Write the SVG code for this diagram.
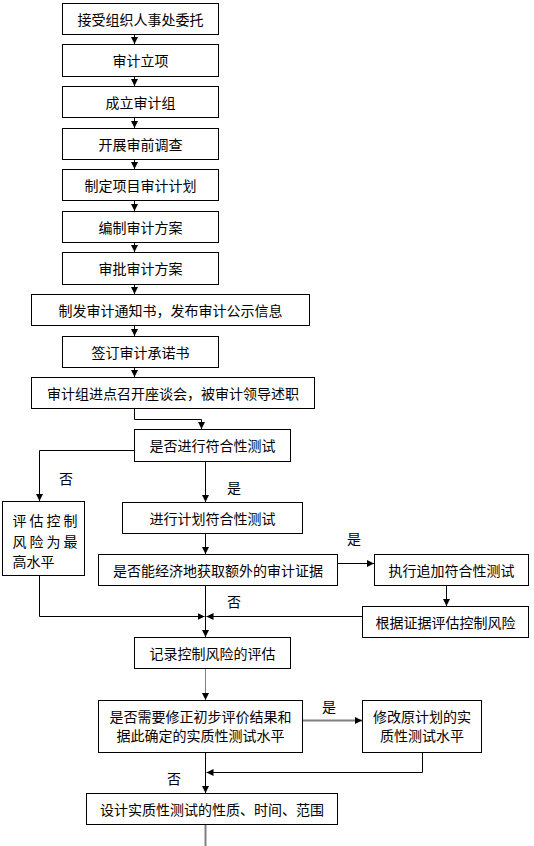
<svg xmlns="http://www.w3.org/2000/svg" width="534" height="846" viewBox="0 0 534 846">
<style>
rect.b{fill:#fff;stroke:#000;stroke-width:1}
text{font-family:"Noto Sans CJK SC","Noto Sans CJK TC",sans-serif;font-size:14px;fill:#000}
text.c{text-anchor:middle}
.ln{fill:none;stroke:#000;stroke-width:1}
.gl{fill:none;stroke:#808080;stroke-width:1}
.gt{fill:none;stroke:#808080;stroke-width:2}
</style>
<defs>
<marker id="ar" markerUnits="userSpaceOnUse" markerWidth="8" markerHeight="8" refX="7" refY="3.5" orient="auto">
<path d="M0,0 L7,3.5 L0,7 z" fill="#000"/>
</marker>
</defs>
<rect width="534" height="846" fill="#fff"/>
<g id="connectors">
<path class="ln" d="M134.5,34.5 V44" marker-end="url(#ar)"/>
<path class="ln" d="M134.5,76.5 V86" marker-end="url(#ar)"/>
<path class="ln" d="M134.5,117.5 V128" marker-end="url(#ar)"/>
<path class="ln" d="M134.5,159.5 V169" marker-end="url(#ar)"/>
<path class="ln" d="M134.5,200.5 V211" marker-end="url(#ar)"/>
<path class="ln" d="M134.5,242.5 V252" marker-end="url(#ar)"/>
<path class="ln" d="M134.5,284.5 V294" marker-end="url(#ar)"/>
<path class="ln" d="M134.5,325.5 V336" marker-end="url(#ar)"/>
<path class="ln" d="M134.5,367.5 V377" marker-end="url(#ar)"/>
<path class="ln" d="M134.5,408.5 V419.5 H201.5 V429" marker-end="url(#ar)"/>
<path class="ln" d="M134.5,450.5 H39.5 V501" marker-end="url(#ar)"/>
<path class="ln" d="M205.5,461.5 V502" marker-end="url(#ar)"/>
<path class="ln" d="M205.5,533.5 V554" marker-end="url(#ar)"/>
<path class="ln" d="M337.5,563.5 H374" marker-end="url(#ar)"/>
<path class="ln" d="M446.5,585.5 V606" marker-end="url(#ar)"/>
<path class="ln" d="M205.5,585.5 V637" marker-end="url(#ar)"/>
<path class="ln" d="M39.5,575.5 V616.5 H204.5" marker-end="url(#ar)"/>
<path class="ln" d="M362.5,616.5 H206.5" marker-end="url(#ar)"/>
<path class="gl" d="M205.5,668.5 V700" marker-end="url(#ar)"/>
<path class="gt" d="M302.5,720.5 H362" marker-end="url(#ar)"/>
<path class="ln" d="M422.5,752.5 V772.5 H206.5" marker-end="url(#ar)"/>
<path class="ln" d="M205.5,752.5 V793" marker-end="url(#ar)"/>
<path class="gt" d="M205.5,824.5 V846"/>
</g>
<g id="labels">
<text class="c" x="66" y="483.5">否</text>
<text class="c" x="234" y="492.5">是</text>
<text class="c" x="354" y="543.5">是</text>
<text class="c" x="234" y="607">否</text>
<text class="c" x="329" y="711.5">是</text>
<text class="c" x="174" y="783.5">否</text>
</g>
<g id="n1"><rect class="b" x="62.5" y="3.5" width="156" height="31"/><text class="c" x="140.5" y="24.5">接受组织人事处委托</text></g>
<g id="n2"><rect class="b" x="62.5" y="44.5" width="156" height="32"/><text class="c" x="140.5" y="66">审计立项</text></g>
<g id="n3"><rect class="b" x="62.5" y="86.5" width="156" height="31"/><text class="c" x="140.5" y="107.5">成立审计组</text></g>
<g id="n4"><rect class="b" x="62.5" y="128.5" width="156" height="31"/><text class="c" x="140.5" y="149.5">开展审前调查</text></g>
<g id="n5"><rect class="b" x="62.5" y="169.5" width="156" height="31"/><text class="c" x="140.5" y="190.5">制定项目审计计划</text></g>
<g id="n6"><rect class="b" x="62.5" y="211.5" width="156" height="31"/><text class="c" x="140.5" y="232.5">编制审计方案</text></g>
<g id="n7"><rect class="b" x="62.5" y="252.5" width="156" height="32"/><text class="c" x="140.5" y="274">审批审计方案</text></g>
<g id="n8"><rect class="b" x="31.5" y="294.5" width="278" height="31"/><text class="c" x="170.5" y="315.5">制发审计通知书，发布审计公示信息</text></g>
<g id="n9"><rect class="b" x="62.5" y="336.5" width="156" height="31"/><text class="c" x="140.5" y="357.5">签订审计承诺书</text></g>
<g id="n10"><rect class="b" x="31.5" y="377.5" width="283" height="31"/><text class="c" x="173" y="398.5">审计组进点召开座谈会，被审计领导述职</text></g>
<g id="n11"><rect class="b" x="134.5" y="429.5" width="156" height="32"/><text class="c" x="212.5" y="451">是否进行符合性测试</text></g>
<g id="n12"><rect class="b" x="2.5" y="501.5" width="82" height="74"/>
<text x="12.5" y="525.5" letter-spacing="3">评估控制</text>
<text x="12.5" y="547" letter-spacing="3">风险为最</text>
<text x="12.5" y="566.5">高水平</text></g>
<g id="n13"><rect class="b" x="122.5" y="502.5" width="180" height="31"/><text class="c" x="212.5" y="523.5">进行计划符合性测试</text></g>
<g id="n14"><rect class="b" x="98.5" y="554.5" width="239" height="31"/><text class="c" x="218" y="575.5">是否能经济地获取额外的审计证据</text></g>
<g id="n15"><rect class="b" x="374.5" y="554.5" width="154" height="31"/><text class="c" x="451.5" y="575.5">执行追加符合性测试</text></g>
<g id="n16"><rect class="b" x="362.5" y="606.5" width="166" height="31"/><text class="c" x="445.5" y="627.5">根据证据评估控制风险</text></g>
<g id="n17"><rect class="b" x="134.5" y="637.5" width="156" height="31"/><text class="c" x="212.5" y="658.5">记录控制风险的评估</text></g>
<g id="n18"><rect class="b" x="98.5" y="700.5" width="204" height="52"/>
<text class="c" x="200.5" y="721.5">是否需要修正初步评价结果和</text>
<text class="c" x="200.5" y="740.5">据此确定的实质性测试水平</text></g>
<g id="n19"><rect class="b" x="362.5" y="700.5" width="119" height="52"/>
<text class="c" x="422" y="721.5">修改原计划的实</text>
<text class="c" x="422" y="740.5">质性测试水平</text></g>
<g id="n20"><rect class="b" x="86.5" y="793.5" width="251" height="31"/><text class="c" x="212" y="814.5">设计实质性测试的性质、时间、范围</text></g>
</svg>
